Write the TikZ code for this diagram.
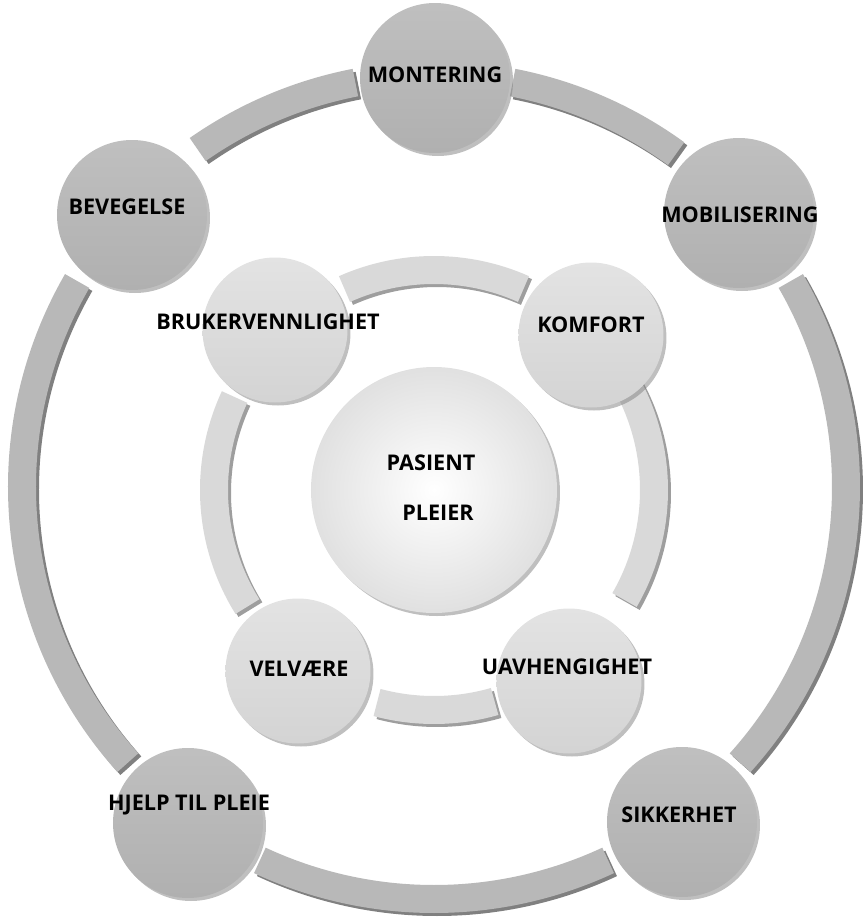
\documentclass[tikz,border=0pt]{standalone}
\usepackage{fontspec}
\setmainfont{Open Sans}
\usetikzlibrary{shadows}

\begin{document}
\begin{tikzpicture}
	\tikzstyle{outer}=[circle, inner sep=0pt, minimum size=3cm, top color=black!25, bottom color=black!31, drop shadow={shadow xshift=0.6mm, shadow yshift=-0.6mm, opacity=0.5}]
	\tikzstyle{inner}=[circle, inner sep=0pt, minimum size=2.9cm, top color=black!11, bottom color=black!17, drop shadow={shadow xshift=0.6mm, shadow yshift=-0.6mm, opacity=0.5}]
	\tikzstyle{hub}=[circle, inner sep=0pt, minimum size=4.92cm, inner color=white, outer color=black!12, drop shadow={shadow xshift=0.6mm, shadow yshift=-0.6mm, opacity=0.5}]
	\tikzstyle{band}=[line width=0.56cm]
	\tikzstyle{lbl}=[font=\fontsize{12.3}{14}\selectfont\bfseries, inner sep=0pt]

	\useasboundingbox (-8.68,-8.72) rectangle (8.62,9.74);

	% outer ring
	\foreach \a/\b in {101/125, 79/54, 30/-42, -65/-115, 150/222}{
		\draw[band, black!50] ([shift={(0.06,-0.06)}]\a:8.24) arc[start angle=\a, end angle=\b, radius=8.24];
		\draw[band, black!28] (\a:8.24) arc[start angle=\a, end angle=\b, radius=8.24];
	}

	% inner ring
	\foreach \a/\b in {114/66, 28/-30, 155/212, 255/286}{
		\draw[band, black!38] ([shift={(0.06,-0.12)}]\a:4.4) arc[start angle=\a, end angle=\b, radius=4.4];
		\draw[band, black!15] ([yshift=-0.06cm]\a:4.4) arc[start angle=\a, end angle=\b, radius=4.4];
	}

	\node[outer] (montering) at (0.02,8.18) {};
	\node[outer] (bevegelse) at (-6.04,5.44) {};
	\node[outer] (mobilisering) at (6.1,5.48) {};
	\node[outer] (sikkerhet) at (4.96,-6.7) {};
	\node[outer] (hjelp) at (-4.92,-6.72) {};

	\node[hub] (pasient) at (0,-0.06) {};
	\node[inner] (bruker) at (-3.18,3.14) {};
	\node[inner] (komfort) at (3.14,3.04) {};
	\node[inner] (velvaere) at (-2.72,-3.68) {};
	\node[inner] (uavh) at (2.7,-3.88) {};

	\node[lbl] (t-montering) at (0.02,8.24) {MONTERING};
	\node[lbl] (t-bevegelse) at (-6.14,5.6) {BEVEGELSE};
	\node[lbl] (t-mobilisering) at (6.12,5.44) {MOBILISERING};
	\node[lbl] (t-sikkerhet) at (4.9,-6.56) {SIKKERHET};
	\node[lbl] (t-hjelp) at (-4.9,-6.36) {HJELP TIL PLEIE};
	\node[lbl] (t-bruker) at (-3.32,3.3) {BRUKERVENNLIGHET};
	\node[lbl] (t-komfort) at (3.14,3.24) {KOMFORT};
	\node[lbl] (t-velvaere) at (-2.7,-3.64) {VELVÆRE};
	\node[lbl] (t-uavh) at (2.66,-3.6) {UAVHENGIGHET};
	\node[lbl] (t-pasient) at (-0.06,0.48) {PASIENT};
	\node[lbl] (t-pleier) at (0.08,-0.52) {PLEIER};
\end{tikzpicture}
\end{document}
